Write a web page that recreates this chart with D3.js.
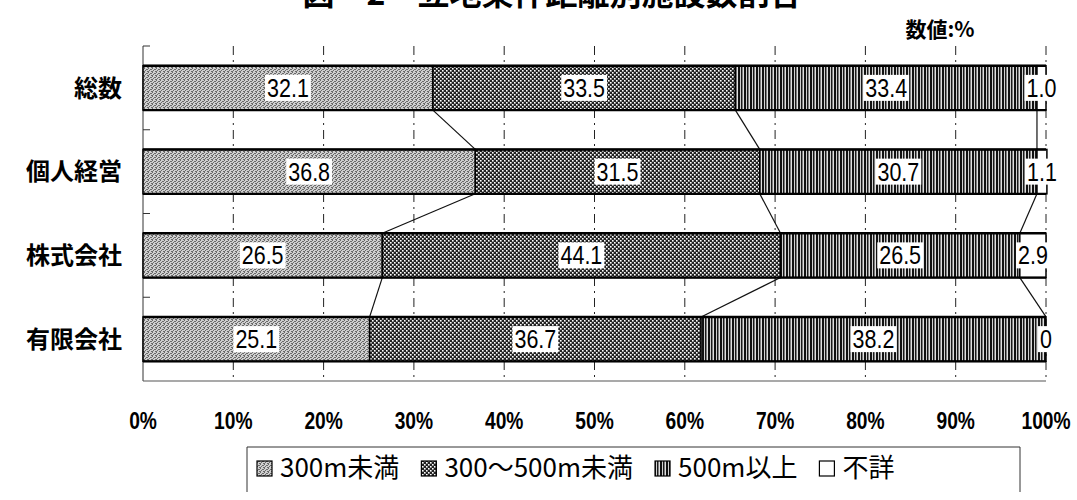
<!DOCTYPE html>
<html><head><meta charset="utf-8">
<script src="https://cdn.jsdelivr.net/npm/d3@7"></script>
<style>body{margin:0;background:#fff;}svg{display:block;}</style>
</head><body>
<svg id="c" width="1077" height="500"></svg>
<script>
const categories = ["総数", "個人経営", "株式会社", "有限会社"];
const seriesNames = ["300m未満", "300〜500m未満", "500m以上", "不詳"];
const s300 = [32.1, 36.8, 26.5, 25.1];
const s300to500 = [33.5, 31.5, 44.1, 36.7];
const s500 = [33.4, 30.7, 26.5, 38.2];
const sUnknown = [1.0, 1.1, 2.9, 0];
const tickValues = [0, 10, 20, 30, 40, 50, 60, 70, 80, 90, 100];
const tickLabels = ["0%", "10%", "20%", "30%", "40%", "50%", "60%", "70%", "80%", "90%", "100%"];
const titleText = "図　2　立地条件距離別施設数割合";
const unitText = "数値:%";

const series = [s300, s300to500, s500, sUnknown];
const svg = d3.select("#c");

// patterns
const defs = svg.append("defs");
const p1 = defs.append("pattern").attr("id","p0").attr("patternUnits","userSpaceOnUse").attr("width",4).attr("height",4);
p1.append("rect").attr("width",4).attr("height",4).attr("fill","#cfcfcf");
[[0,0],[2,1],[1,2],[3,3],[0,3],[3,1]].forEach(([x,y])=>p1.append("rect").attr("x",x).attr("y",y).attr("width",1).attr("height",1).attr("fill","#6a6a6a"));
const p2 = defs.append("pattern").attr("id","p1").attr("patternUnits","userSpaceOnUse").attr("width",4).attr("height",4);
p2.append("rect").attr("width",4).attr("height",4).attr("fill","#222");
[[0,0],[2,2]].forEach(([x,y])=>p2.append("rect").attr("x",x).attr("y",y).attr("width",1.6).attr("height",1.6).attr("fill","#ffffff"));
const p3 = defs.append("pattern").attr("id","p2").attr("patternUnits","userSpaceOnUse").attr("width",6).attr("height",10);
p3.append("rect").attr("width",6).attr("height",10).attr("fill","#ffffff");
p3.append("rect").attr("x",0).attr("width",2).attr("height",10).attr("fill","#111");
p3.append("rect").attr("x",2.8).attr("width",1.6).attr("height",10).attr("fill","#1a1a1a");
p3.append("rect").attr("x",4.4).attr("width",0.8).attr("height",10).attr("fill","#666");
const fills = ["url(#p0)","url(#p1)","url(#p2)","#ffffff"];

const x = d3.scaleLinear().domain([0,100]).range([143,1046]);
const y = d3.scaleBand().domain(categories).range([46,381]).paddingInner(0.47).paddingOuter(0.235);

// title (partially clipped at top, as in the source) and unit
svg.append("text").attr("x",552).attr("y",5).attr("text-anchor","middle")
  .attr("font-family","'Noto Sans CJK JP'").attr("font-weight","bold").attr("font-size",32).text(titleText);
svg.append("text").attr("x",940).attr("y",37).attr("text-anchor","middle")
  .attr("font-family","'Noto Sans CJK JP'").attr("font-weight","bold").attr("font-size",21).text(unitText);

// gridlines
svg.append("g").selectAll("line").data(tickValues.slice(1)).join("line")
  .attr("x1",d=>x(d)).attr("x2",d=>x(d)).attr("y1",46).attr("y2",381)
  .attr("stroke","#222").attr("stroke-width",1).attr("stroke-dasharray","9,5,2,5");

// left axis with ticks at band boundaries
svg.append("line").attr("x1",143).attr("x2",143).attr("y1",46).attr("y2",381).attr("stroke","#333").attr("stroke-width",1);
const bounds = [46].concat(categories.slice(0,-1).map(c=>y(c)+y.bandwidth()+ (y.step()-y.bandwidth())/2));
svg.append("g").selectAll("line").data(bounds).join("line")
  .attr("x1",143).attr("x2",150).attr("y1",d=>d).attr("y2",d=>d).attr("stroke","#333");
// bottom axis
svg.append("line").attr("x1",143).attr("x2",1046).attr("y1",381).attr("y2",381).attr("stroke","#555").attr("stroke-width",1.2);

// stacked data
const stacked = categories.map((c,i)=>{
  let acc=0; return series.map((s,k)=>{const v=s[i]; const r={cat:c,k,v,x0:acc,x1:acc+v}; acc+=v; return r;});
});

// connector lines
const conn=[];
for(let i=0;i<categories.length-1;i++){
  for(let k=0;k<3;k++){
    conn.push({xa:stacked[i][k].x1, ya:y(categories[i])+y.bandwidth(), xb:stacked[i+1][k].x1, yb:y(categories[i+1])});
  }
}
svg.append("g").selectAll("line").data(conn).join("line")
  .attr("x1",d=>x(d.xa)).attr("y1",d=>d.ya).attr("x2",d=>x(d.xb)).attr("y2",d=>d.yb)
  .attr("stroke","#111").attr("stroke-width",1.2);

// bars
const gBars = svg.append("g");
stacked.forEach(row=>{
  gBars.selectAll(null).data(row).join("rect")
    .attr("x",d=>x(d.x0)).attr("width",d=>Math.max(0,x(d.x1)-x(d.x0)))
    .attr("y",d=>y(d.cat)).attr("height",y.bandwidth())
    .attr("fill",d=>fills[d.k]).attr("stroke","#000").attr("stroke-width",1.5);
  gBars.append("line").attr("x1",x(0)).attr("x2",x(100)).attr("y1",y(row[0].cat)).attr("y2",y(row[0].cat)).attr("stroke","#000").attr("stroke-width",2.4);
  gBars.append("line").attr("x1",x(0)).attr("x2",x(100)).attr("y1",y(row[0].cat)+y.bandwidth()).attr("y2",y(row[0].cat)+y.bandwidth()).attr("stroke","#000").attr("stroke-width",2.2);
});

// value labels
const labs = stacked.flat();
const gl = svg.append("g");
labs.forEach(d=>{
  const cx = x((d.x0+d.x1)/2);
  const cy = y(d.cat)+y.bandwidth()/2;
  const txt = d.v===0 ? "0" : d.v.toFixed(1);
  const g = gl.append("g").attr("transform",`translate(${cx},${cy})`);
  const t = g.append("text").attr("text-anchor","middle").attr("dy","0.36em")
    .attr("font-family","'Liberation Sans', Arial, sans-serif").attr("font-size",25)
    .attr("transform","scale(0.86,1)").text(txt);
  const bb = t.node().getBBox();
  g.insert("rect","text").attr("x",bb.x*0.86-2).attr("y",-13).attr("width",bb.width*0.86+4).attr("height",26).attr("fill","#fff");
});

// category labels
svg.append("g").selectAll("text").data(categories).join("text")
  .attr("x",122).attr("y",d=>y(d)+y.bandwidth()/2).attr("dy","0.36em").attr("text-anchor","end")
  .attr("font-family","'Noto Sans CJK JP'").attr("font-weight","bold").attr("font-size",24).text(d=>d);

// tick labels
svg.append("g").selectAll("text").data(tickValues).join("text")
  .attr("transform",d=>`translate(${x(d)},429) scale(0.8,1)`).attr("text-anchor","middle")
  .attr("font-family","'Liberation Sans', Arial, sans-serif").attr("font-weight","bold").attr("font-size",24)
  .text((d,i)=>tickLabels[i]);

// legend
const lg = svg.append("g");
lg.append("line").attr("x1",247).attr("x2",247).attr("y1",447).attr("y2",492).attr("stroke","#333");
lg.append("line").attr("x1",1020).attr("x2",1020).attr("y1",447).attr("y2",492).attr("stroke","#333");
lg.append("line").attr("x1",247).attr("x2",1020).attr("y1",447).attr("y2",447).attr("stroke","#333");
let cursor = 257;
seriesNames.forEach((n,k)=>{
  lg.append("rect").attr("x",cursor).attr("y",461).attr("width",15).attr("height",15)
    .attr("fill",fills[k]).attr("stroke","#000").attr("stroke-width",1.2);
  const t = lg.append("text").attr("x",cursor+23).attr("y",477)
    .attr("font-family","'Noto Sans CJK JP'").attr("font-size",26).text(n);
  cursor = cursor + 23 + t.node().getComputedTextLength() + 22;
});
</script>
</body></html>
